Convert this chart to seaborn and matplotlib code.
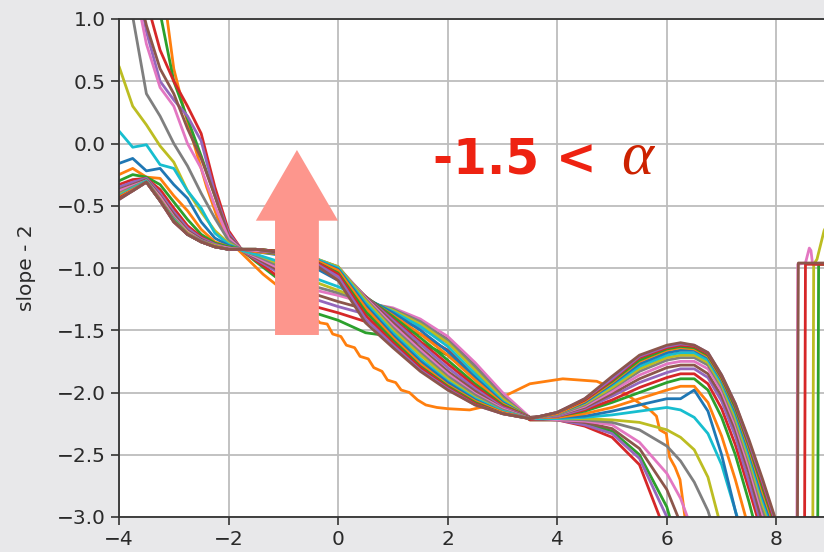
import matplotlib
matplotlib.use("Agg")
import matplotlib.pyplot as plt
import pandas as pd
import seaborn as sns
from matplotlib.patches import FancyArrow

# shared x positions for the regular curves
x_grid = [-4.0, -3.75, -3.5, -3.25, -3.0, -2.75, -2.5, -2.25, -2.0, -1.75,
          -1.5, -1.0, -0.5, 0.0, 0.5, 1.0, 1.5, 2.0, 2.5, 3.0, 3.5,
          4.0, 4.5, 5.0, 5.5, 6.0, 6.25, 6.5, 6.75, 7.0, 7.25, 7.5, 7.75, 8.0]

curve_02 = [2.2, 1.85, 1.4, 1.05, 0.5, 0.2, -0.1, -0.42, -0.74, -0.86,
            -0.95, -1.12, -1.35, -1.42, -1.52, -1.55, -1.6, -1.7, -1.88, -2.08, -2.22,
            -2.22, -2.25, -2.31, -2.5, -2.92, -3.3, -3.6, -3.6, -3.6, -3.6, -3.6, -3.6, -3.6]
curve_03 = [2.2, 1.8, 1.15, 0.75, 0.5, 0.3, 0.08, -0.35, -0.7, -0.86,
            -0.94, -1.1, -1.3, -1.36, -1.43, -1.47, -1.53, -1.66, -1.85, -2.06, -2.22,
            -2.22, -2.27, -2.36, -2.58, -3.15, -3.6, -3.6, -3.6, -3.6, -3.6, -3.6, -3.6, -3.6]
curve_04 = [2.0, 1.5, 0.9, 0.5, 0.35, 0.22, 0.02, -0.4, -0.72, -0.86,
            -0.93, -1.06, -1.24, -1.31, -1.37, -1.41, -1.48, -1.6, -1.8, -2.03, -2.21,
            -2.22, -2.26, -2.33, -2.53, -3.0, -3.6, -3.6, -3.6, -3.6, -3.6, -3.6, -3.6, -3.6]
curve_05 = [1.9, 1.4, 0.95, 0.6, 0.4, 0.12, -0.12, -0.42, -0.74, -0.86,
            -0.92, -1.04, -1.2, -1.27, -1.33, -1.37, -1.45, -1.57, -1.78, -2.02, -2.21,
            -2.22, -2.24, -2.29, -2.45, -2.78, -3.05, -3.6, -3.6, -3.6, -3.6, -3.6, -3.6, -3.6]
curve_06 = [1.8, 1.35, 0.8, 0.45, 0.3, 0.0, -0.2, -0.5, -0.76, -0.86,
            -0.91, -1.02, -1.17, -1.22, -1.28, -1.32, -1.41, -1.55, -1.76, -2.0, -2.2,
            -2.22, -2.23, -2.26, -2.4, -2.65, -2.85, -3.15, -3.6, -3.6, -3.6, -3.6, -3.6, -3.6]
curve_07 = [1.6, 1.02, 0.4, 0.22, 0.0, -0.18, -0.4, -0.6, -0.78, -0.86,
            -0.9, -1.0, -1.14, -1.2, -1.27, -1.33, -1.43, -1.58, -1.79, -2.03, -2.21,
            -2.21, -2.22, -2.24, -2.3, -2.43, -2.55, -2.72, -2.95, -3.3, -3.6, -3.6, -3.6, -3.6]
curve_08 = [0.62, 0.3, 0.15, -0.02, -0.15, -0.38, -0.55, -0.7, -0.8, -0.86,
            -0.89, -0.98, -1.1, -1.18, -1.26, -1.34, -1.45, -1.6, -1.82, -2.05, -2.21,
            -2.21, -2.21, -2.22, -2.24, -2.3, -2.36, -2.46, -2.68, -3.1, -3.6, -3.6, -3.6, -3.6]
curve_09 = [0.1, -0.03, -0.01, -0.17, -0.2, -0.38, -0.52, -0.72, -0.81, -0.86,
            -0.89, -0.96, -1.07, -1.15, -1.25, -1.35, -1.47, -1.63, -1.85, -2.07, -2.21,
            -2.21, -2.2, -2.18, -2.15, -2.12, -2.14, -2.2, -2.33, -2.58, -2.95, -3.3, -3.6, -3.6]
curve_10 = [-0.16, -0.12, -0.22, -0.2, -0.33, -0.44, -0.63, -0.76, -0.82, -0.85,
            -0.87, -0.9, -0.98, -1.1, -1.24, -1.36, -1.5, -1.67, -1.88, -2.08, -2.2,
            -2.2, -2.19, -2.15, -2.1, -2.05, -2.05, -1.98, -2.15, -2.5, -2.95, -3.4, -3.6, -3.6]
curve_11 = [-0.25, -0.2, -0.27, -0.28, -0.42, -0.54, -0.69, -0.79, -0.83, -0.85,
            -0.87, -0.89, -0.96, -1.08, -1.24, -1.38, -1.53, -1.7, -1.9, -2.09, -2.2,
            -2.2, -2.17, -2.12, -2.05, -1.98, -1.95, -1.95, -2.08, -2.35, -2.7, -3.1, -3.6, -3.6]
curve_12 = [-0.3, -0.25, -0.27, -0.33, -0.47, -0.61, -0.73, -0.8, -0.83, -0.85,
            -0.86, -0.89, -0.95, -1.06, -1.23, -1.39, -1.56, -1.74, -1.93, -2.1, -2.2,
            -2.19, -2.15, -2.08, -2.0, -1.92, -1.89, -1.89, -1.98, -2.2, -2.5, -2.88, -3.3, -3.6]
curve_13 = [-0.33, -0.29, -0.28, -0.37, -0.52, -0.66, -0.75, -0.81, -0.84, -0.85,
            -0.86, -0.88, -0.94, -1.04, -1.23, -1.41, -1.59, -1.77, -1.95, -2.11, -2.2,
            -2.19, -2.14, -2.06, -1.96, -1.88, -1.85, -1.85, -1.93, -2.13, -2.42, -2.78, -3.15, -3.6]
curve_14 = [-0.35, -0.31, -0.28, -0.4, -0.55, -0.68, -0.76, -0.81, -0.84, -0.85,
            -0.86, -0.88, -0.93, -1.02, -1.23, -1.42, -1.61, -1.8, -1.97, -2.12, -2.2,
            -2.19, -2.13, -2.03, -1.92, -1.84, -1.81, -1.81, -1.88, -2.07, -2.35, -2.72, -3.1, -3.6]
curve_15 = [-0.37, -0.33, -0.29, -0.42, -0.57, -0.7, -0.77, -0.82, -0.84, -0.85,
            -0.86, -0.87, -0.92, -1.0, -1.23, -1.44, -1.64, -1.83, -1.99, -2.13, -2.2,
            -2.18, -2.12, -2.01, -1.89, -1.8, -1.78, -1.78, -1.85, -2.03, -2.3, -2.65, -3.05, -3.5]
curve_16 = [-0.38, -0.34, -0.3, -0.43, -0.59, -0.71, -0.78, -0.82, -0.84, -0.85,
            -0.86, -0.87, -0.92, -0.99, -1.24, -1.46, -1.66, -1.85, -2.01, -2.13, -2.21,
            -2.18, -2.11, -1.99, -1.86, -1.77, -1.75, -1.75, -1.81, -1.99, -2.26, -2.6, -2.98, -3.3]
curve_17 = [-0.4, -0.35, -0.3, -0.45, -0.6, -0.72, -0.78, -0.82, -0.85, -0.85,
            -0.85, -0.87, -0.91, -0.99, -1.25, -1.48, -1.68, -1.87, -2.02, -2.14, -2.21,
            -2.18, -2.1, -1.97, -1.83, -1.74, -1.72, -1.72, -1.78, -1.96, -2.23, -2.56, -2.94, -3.25]
curve_18 = [-0.41, -0.36, -0.3, -0.45, -0.61, -0.72, -0.79, -0.82, -0.85, -0.85,
            -0.85, -0.87, -0.91, -0.99, -1.26, -1.5, -1.7, -1.89, -2.04, -2.15, -2.21,
            -2.17, -2.09, -1.96, -1.81, -1.72, -1.7, -1.7, -1.76, -1.94, -2.2, -2.53, -2.9, -3.2]
curve_19 = [-0.42, -0.36, -0.3, -0.46, -0.61, -0.73, -0.79, -0.83, -0.85, -0.85,
            -0.85, -0.87, -0.91, -1.0, -1.28, -1.52, -1.73, -1.91, -2.05, -2.15, -2.21,
            -2.17, -2.08, -1.94, -1.79, -1.7, -1.68, -1.68, -1.74, -1.92, -2.17, -2.5, -2.86, -3.18]
curve_20 = [-0.43, -0.37, -0.31, -0.46, -0.62, -0.73, -0.79, -0.83, -0.85, -0.85,
            -0.85, -0.87, -0.92, -1.01, -1.3, -1.54, -1.75, -1.92, -2.06, -2.16, -2.21,
            -2.17, -2.08, -1.93, -1.77, -1.68, -1.66, -1.66, -1.72, -1.9, -2.15, -2.47, -2.83, -3.15]
curve_21 = [-0.43, -0.37, -0.31, -0.46, -0.62, -0.73, -0.79, -0.83, -0.85, -0.85,
            -0.85, -0.87, -0.92, -1.02, -1.32, -1.56, -1.77, -1.94, -2.07, -2.16, -2.21,
            -2.17, -2.07, -1.92, -1.75, -1.66, -1.64, -1.65, -1.71, -1.89, -2.13, -2.45, -2.8, -3.12]
curve_22 = [-0.44, -0.38, -0.31, -0.46, -0.62, -0.73, -0.79, -0.83, -0.85, -0.85,
            -0.85, -0.87, -0.93, -1.04, -1.35, -1.58, -1.79, -1.95, -2.08, -2.17, -2.21,
            -2.16, -2.06, -1.91, -1.74, -1.65, -1.63, -1.64, -1.7, -1.88, -2.12, -2.43, -2.77, -3.1]
curve_23 = [-0.44, -0.38, -0.31, -0.46, -0.63, -0.73, -0.79, -0.83, -0.85, -0.85,
            -0.85, -0.87, -0.93, -1.05, -1.38, -1.6, -1.8, -1.96, -2.09, -2.17, -2.21,
            -2.16, -2.06, -1.9, -1.72, -1.64, -1.62, -1.63, -1.69, -1.87, -2.1, -2.41, -2.74, -3.08]
curve_24 = [-0.45, -0.38, -0.31, -0.46, -0.63, -0.73, -0.79, -0.83, -0.85, -0.85,
            -0.85, -0.88, -0.94, -1.07, -1.41, -1.62, -1.82, -1.97, -2.1, -2.17, -2.21,
            -2.16, -2.05, -1.89, -1.71, -1.63, -1.61, -1.62, -1.68, -1.86, -2.09, -2.4, -2.72, -3.06]
curve_25 = [-0.45, -0.38, -0.31, -0.46, -0.63, -0.73, -0.79, -0.83, -0.85, -0.85,
            -0.85, -0.88, -0.95, -1.1, -1.44, -1.64, -1.83, -1.98, -2.1, -2.17, -2.21,
            -2.16, -2.05, -1.87, -1.7, -1.62, -1.6, -1.62, -1.68, -1.86, -2.09, -2.38, -2.7, -3.04]

# the stray early run with its own sampling
curve_01_x = [-4.0, -3.5, -3.12, -3.0, -2.8, -2.6, -2.4, -2.2, -1.95,
              -1.37, -0.8, -0.33, -0.2, -0.1, 0.05, 0.15, 0.3, 0.4, 0.55, 0.65, 0.8, 0.9,
              1.05, 1.15, 1.3, 1.45, 1.6, 1.8, 2.0, 2.4, 2.8, 3.08, 3.5, 4.1, 4.72, 5.2,
              5.69, 5.81, 5.87, 5.99, 6.05, 6.15, 6.24, 6.33, 6.5]
curve_01_y = [2.4, 1.7, 1.0, 0.6, 0.25, -0.05, -0.35, -0.6, -0.8,
              -1.05, -1.25, -1.44, -1.45, -1.53, -1.55, -1.62, -1.64, -1.71, -1.73, -1.8, -1.83, -1.9,
              -1.92, -1.98, -2.0, -2.06, -2.1, -2.12, -2.13, -2.14, -2.1, -2.02, -1.93, -1.89, -1.91, -2.0,
              -2.14, -2.19, -2.3, -2.33, -2.52, -2.6, -2.7, -3.0, -3.6]

# far-right pieces that come back up from below the axis
tail_16_x = [8.37, 8.39, 8.53, 8.6, 8.63, 8.66, 9.2]
tail_16_y = [-3.6, -0.97, -0.96, -0.84, -0.86, -0.97, -0.97]
tail_18_x = [8.66, 8.68, 8.74, 8.87, 9.2]
tail_18_y = [-3.6, -0.97, -0.93, -0.7, -0.4]
tail_22_x = [8.75, 8.77, 9.2]
tail_22_y = [-3.6, -0.97, -0.97]
tail_23_x = [8.51, 8.53, 9.2]
tail_23_y = [-3.6, -0.97, -0.97]
tail_25_x = [8.38, 8.40, 9.2]
tail_25_y = [-3.6, -0.96, -0.96]

grid_curves = {
    2: curve_02, 3: curve_03, 4: curve_04, 5: curve_05, 6: curve_06, 7: curve_07,
    8: curve_08, 9: curve_09, 10: curve_10, 11: curve_11, 12: curve_12, 13: curve_13,
    14: curve_14, 15: curve_15, 16: curve_16, 17: curve_17, 18: curve_18, 19: curve_19,
    20: curve_20, 21: curve_21, 22: curve_22, 23: curve_23, 24: curve_24, 25: curve_25,
}
tails = {16: (tail_16_x, tail_16_y), 18: (tail_18_x, tail_18_y), 22: (tail_22_x, tail_22_y),
         23: (tail_23_x, tail_23_y), 25: (tail_25_x, tail_25_y)}

rows = [(1, xv, yv) for xv, yv in zip(curve_01_x, curve_01_y)]
for cid, ys in grid_curves.items():
    xs = list(x_grid)
    ys = list(ys)
    if cid in tails:
        xs += tails[cid][0]
        ys += tails[cid][1]
    rows += [(cid, xv, yv) for xv, yv in zip(xs, ys)]
df = pd.DataFrame(rows, columns=["curve", "x", "y"])

tab10 = sns.color_palette("tab10", 10)
palette = {cid: tab10[cid % 10] for cid in sorted(df["curve"].unique())}

sns.set_style("white")
plt.rcParams["font.family"] = ["DejaVu Sans"]

bg = "#e8e8ea"
fig = plt.figure(figsize=(8.24, 5.52), dpi=100, facecolor=bg)
# axes run past the right edge of the canvas
ax = fig.add_axes([119 / 824, 35 / 552, 767 / 824, 498 / 552])
ax.set_facecolor("white")

sns.lineplot(data=df, x="x", y="y", hue="curve", palette=palette,
             estimator=None, legend=False, linewidth=2.0, ax=ax, zorder=2)

ax.set_xlim(-4, 10)
ax.set_ylim(-3, 1)
ax.set_xticks([-4, -2, 0, 2, 4, 6, 8])
ax.set_yticks([-3.0, -2.5, -2.0, -1.5, -1.0, -0.5, 0.0, 0.5, 1.0])
ax.grid(True, color="#bdbdbd", linewidth=1.3)
ax.set_axisbelow(True)
for side in ["left", "bottom", "top", "right"]:
    ax.spines[side].set_color("#333333")
    ax.spines[side].set_linewidth(1.3)
ax.tick_params(axis="both", direction="out", length=6, width=1.2,
               colors="#333333", labelsize=14.5, labelcolor="#2a2a2a",
               left=True, bottom=True)
ax.set_xlabel("")
ax.set_ylabel("slope - 2", fontsize=14.5, color="#2a2a2a")
ax.yaxis.set_label_coords(-0.108, 0.5)

arrow = FancyArrow(-0.752, -1.538, 0, 1.486, width=0.80, head_width=1.50,
                   head_length=0.568, length_includes_head=True,
                   color="#fd968d", linewidth=0, zorder=5)
ax.add_patch(arrow)

ax.text(1.73, -0.237, "-1.5 <", fontsize=35, fontweight="bold",
        family=["DejaVu Sans"], color="#ee2211",
        ha="left", va="baseline", zorder=6)
ax.text(5.16, -0.237, "\u03b1", fontsize=44, fontstyle="italic",
        family=["Liberation Serif", "DejaVu Serif"], color="#cc2200",
        ha="left", va="baseline", zorder=6)

fig.savefig("out.png", dpi=100, facecolor=bg)
